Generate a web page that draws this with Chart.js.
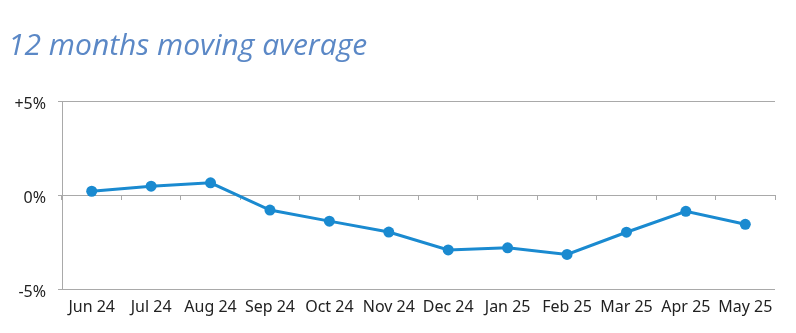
<!DOCTYPE html>
<html>
<head>
<meta charset="utf-8">
<script src="https://cdn.jsdelivr.net/npm/chart.js@4/dist/chart.umd.min.js"></script>
<style>
  html, body { margin: 0; padding: 0; background: #ffffff; }
  #wrap { position: relative; width: 796px; height: 333px; }
</style>
</head>
<body>
<div id="wrap"><canvas id="c" width="796" height="333"></canvas></div>
<script>
// Month labels and 12-month moving average change (%)
const months = ['Jun 24', 'Jul 24', 'Aug 24', 'Sep 24', 'Oct 24', 'Nov 24',
                'Dec 24', 'Jan 25', 'Feb 25', 'Mar 25', 'Apr 25', 'May 25'];
const movingAverage = [0.2, 0.47, 0.65, -0.8, -1.39, -1.97,
                       -2.92, -2.81, -3.16, -1.98, -0.87, -1.56];
const yTicks = [-5, 0, 5];
const titleText = '12 months moving average';

const lineBlue = '#1a8ad0';
const gridGrey = '#a9a9a9';
const labelFont = { family: "'Noto Sans', sans-serif", size: 16 };

new Chart(document.getElementById('c'), {
  type: 'line',
  data: {
    labels: months,
    datasets: [{
      data: movingAverage,
      xAxisID: 'x',
      yAxisID: 'y',
      borderColor: lineBlue,
      backgroundColor: lineBlue,
      borderWidth: 3,
      pointRadius: 5.5,
      pointBackgroundColor: lineBlue,
      pointBorderColor: lineBlue,
      pointBorderWidth: 0,
      tension: 0,
      fill: false
    }]
  },
  options: {
    responsive: false,
    animation: false,
    layout: { padding: { left: 8, right: 21, top: 0, bottom: 0 } },
    plugins: {
      legend: { display: false },
      tooltip: { enabled: false },
      title: {
        display: true,
        text: titleText,
        align: 'start',
        color: '#5b88c6',
        font: { family: "'Open Sans', sans-serif", size: 30, style: 'italic', weight: 'normal', lineHeight: 1.2 },
        padding: { top: 28, bottom: 37 }
      }
    },
    scales: {
      x: {
        type: 'category',
        position: 'bottom',
        offset: true,
        grid: { display: false, drawTicks: false },
        border: { display: false },
        ticks: { color: '#222222', font: labelFont, padding: 9, maxRotation: 0, autoSkip: false },
        afterFit: (s) => { s.height = 44; }
      },
      x2: {
        type: 'category',
        labels: months,
        position: { y: 0 },
        offset: true,
        grid: { offset: true, drawOnChartArea: false, drawTicks: true, tickLength: 4, color: gridGrey, lineWidth: 1 },
        border: { display: true, color: gridGrey, width: 1 },
        ticks: { display: false }
      },
      y: {
        min: -5,
        max: 5,
        afterBuildTicks: (s) => { s.ticks = yTicks.map(v => ({ value: v })); },
        grid: { color: gridGrey, lineWidth: 1, drawTicks: true, tickLength: 4 },
        border: { display: true, color: gridGrey, width: 1 },
        ticks: {
          color: '#222222',
          font: labelFont,
          padding: 12,
          labelOffset: 3,
          callback: (v) => (v > 0 ? '+' + v + '%' : v + '%')
        },
        afterFit: (s) => { s.width = 54; }
      }
    }
  }
});
</script>
</body>
</html>
